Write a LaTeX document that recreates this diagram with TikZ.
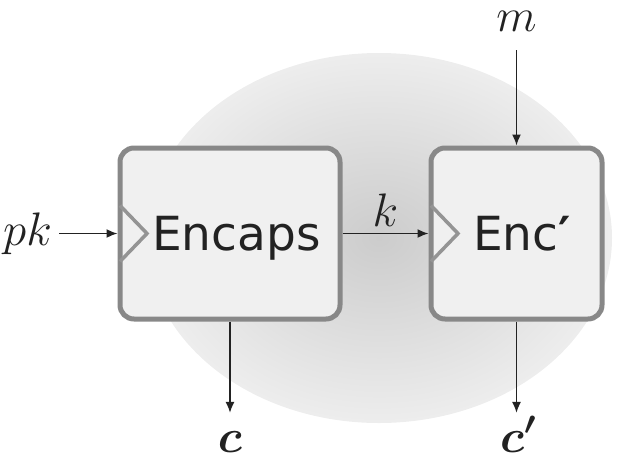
\RequirePackage{fix-cm}
\documentclass[tikz,border=0pt]{standalone}
\usepackage{bm}
\usepackage{fontspec}
\newfontfamily\boxfont{DejaVu Sans}
\usetikzlibrary{arrows.meta}
\definecolor{boxline}{HTML}{888888}
\definecolor{boxfill}{HTML}{F0F0F0}
\definecolor{ink}{HTML}{222222}
\tikzset{
  blk/.style={draw=boxline, fill=boxfill, line width=5pt, rounded corners=14pt, inner sep=0pt},
  blktext/.style={inner sep=0pt, text=ink, font=\boxfont\fontsize{47}{56}\selectfont, anchor=base west},
  notch/.style={draw=boxline!90, line width=3.5pt, miter limit=10},
  mlbl/.style={inner sep=0pt, text=ink, font=\fontsize{47}{56}\selectfont},
  arr/.style={draw=ink, line width=1.6pt, -{Latex[length=11pt,width=9pt]}},
}
\begin{document}
\begin{tikzpicture}[x=1pt,y=-1pt]
\useasboundingbox (0,0) rectangle (621,464);
\shade[inner color=black!20, outer color=black!7] (379,238) ellipse [x radius=233, y radius=185];
\node[blk, minimum width=220pt, minimum height=171pt] (encaps) at (230,233.5) {};
\node[blk, minimum width=171pt, minimum height=171pt] (enc) at (516.5,233.5) {};
\draw[notch] ([yshift=28pt]encaps.west) ++(2.5pt,0) -- ++(27pt,-28pt) -- ++(-27pt,-28pt);
\draw[notch] ([yshift=28pt]enc.west) ++(2.5pt,0) -- ++(27pt,-28pt) -- ++(-27pt,-28pt);
\node[blktext] (encapsT) at (152,250) {Encaps};
\node[blktext] (encT) at (473,250) {Enc{\bfseries ′}};
\node[mlbl, anchor=base east] (pk) at (52,245) {$pk$};
\node[mlbl, anchor=base] (m) at (516.5,31) {$m$};
\node[mlbl, anchor=base] (c) at (230,452) {$\bm{c}$};
\node[mlbl, anchor=base] (cp) at (518,452) {$\bm{c'}$};
\draw[arr, shorten <=7pt] (pk.east |- encaps.west) -- (encaps.west);
\draw[arr] (encaps.east) -- node[mlbl, above=6pt] (k) {$k$} (enc.west);
\draw[arr, shorten <=19pt] (m.south) -- (enc.north);
\draw[arr, shorten >=18pt] (encaps.south) -- (c.north);
\draw[arr, shorten >=18pt] (enc.south) -- (enc.south |- c.north);
\end{tikzpicture}
\end{document}
